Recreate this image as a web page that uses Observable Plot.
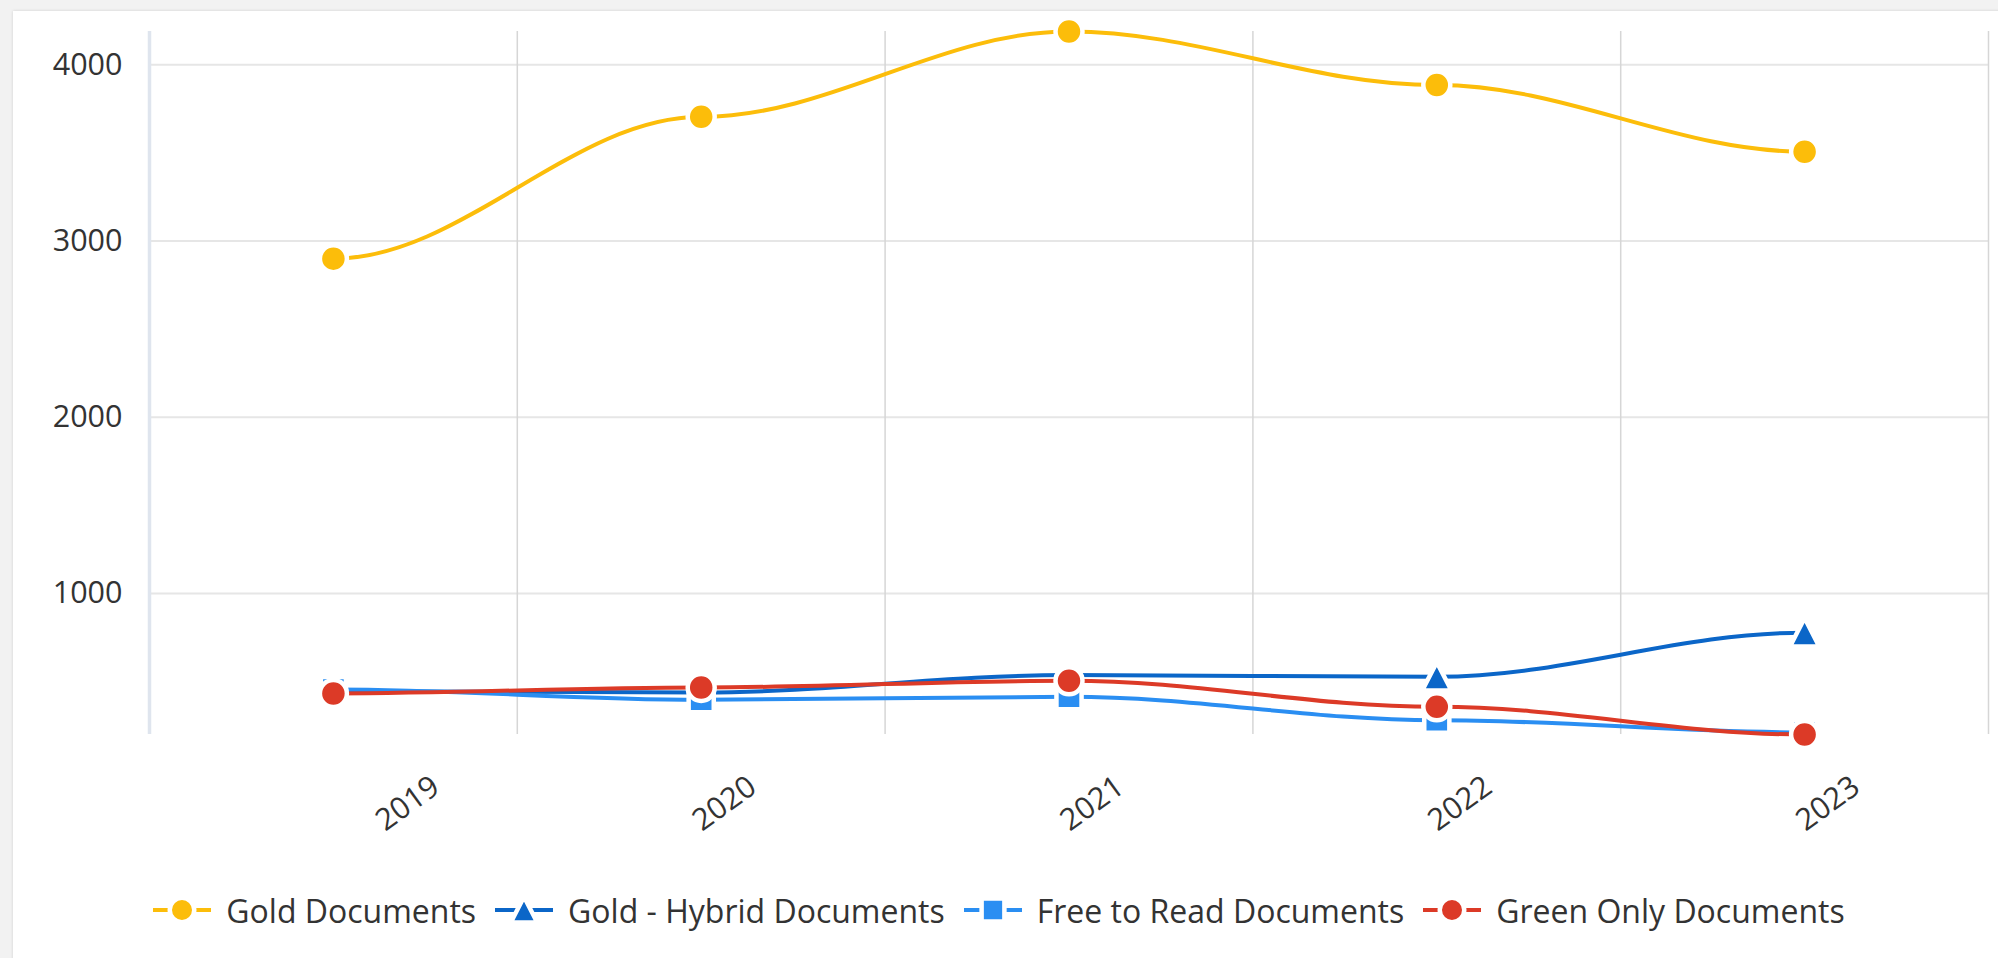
<!DOCTYPE html>
<html>
<head>
<meta charset="utf-8">
<script src="https://cdn.jsdelivr.net/npm/d3@7"></script>
<script src="https://cdn.jsdelivr.net/npm/@observablehq/plot@0.6"></script>
<style>
  html, body { margin: 0; padding: 0; overflow: hidden; }
  body { width: 1998px; height: 958px; background: #f2f2f2; position: relative; font-family: "Open Sans", sans-serif; }
  #card { position: absolute; left: 13px; top: 11px; width: 2100px; height: 1000px; background: #fff; box-shadow: 0 0 3px rgba(0,0,0,0.14); }
  #chart { position: absolute; left: 0; top: 0; }
  #legend { position: absolute; left: 0; top: 888px; width: 1998px; height: 44px; display: flex; justify-content: center; align-items: center; font-size: 32px; color: #333; }
  .item { display: flex; align-items: center; margin: 0 9.5px; white-space: nowrap; }
  .item svg { margin-right: 15px; }
</style>
</head>
<body>
<div id="card"></div>
<div id="chart"></div>
<div id="legend"></div>
<script>
// ---- data ----
const years = [2019, 2020, 2021, 2022, 2023];
const goldDocs = [2900, 3705, 4189, 3885, 3507];
const hybridDocs = [446, 438, 537, 528, 778];
const freeDocs = [455, 397, 414, 281, 212];
const greenDocs = [433, 467, 505, 357, 200];
const seriesNames = ["Gold Documents", "Gold - Hybrid Documents", "Free to Read Documents", "Green Only Documents"];
const seriesColors = ["#fcbd0a", "#0b66c8", "#2a8ef2", "#dc3a27"];
const seriesSymbols = ["circle", "triangle", "square", "circle"];
const yTicks = [1000, 2000, 3000, 4000];

const seriesValues = [goldDocs, hybridDocs, freeDocs, greenDocs];
const rows = seriesNames.map((name, s) => years.map((year, i) => ({series: name, year, value: seriesValues[s][i]})));

// smooth curve with horizontal tangents at each point (control points at 35% of the step)
function smoothCurve(context) {
  return {
    areaStart() {}, areaEnd() {},
    lineStart() { this._p = []; },
    point(x, y) { this._p.push([+x, +y]); },
    lineEnd() {
      const p = this._p, n = p.length;
      if (!n) return;
      context.moveTo(p[0][0], p[0][1]);
      for (let i = 1; i < n; i++) {
        const [x0, y0] = p[i - 1], [x1, y1] = p[i];
        const len = (x1 - x0) * 0.35;
        context.bezierCurveTo(x0 + len, y0, x1 - len, y1, x1, y1);
      }
    }
  };
}

const symbolDefs = {
  circle: {draw(ctx, size) { const r = Math.sqrt(size / Math.PI); ctx.moveTo(r, 0); ctx.arc(0, 0, r, 0, 2 * Math.PI); ctx.closePath(); }},
  square: {draw(ctx, size) { const h = Math.sqrt(size / Math.PI) * 0.93; ctx.rect(-h, -h, 2 * h, 2 * h); }},
  triangle: {draw(ctx, size) { const h = Math.sqrt(size / Math.PI) * 1.08; ctx.moveTo(0, -h); ctx.lineTo(h, h * 0.95); ctx.lineTo(-h, h * 0.95); ctx.closePath(); }}
};

const bounds = years.map(y => y - 0.5).concat([years[years.length - 1] + 0.5]);
const allValues = seriesValues.flat();

const marks = [
  Plot.ruleY(yTicks, {stroke: "#e6e6e6", strokeWidth: 2}),
  Plot.ruleX(bounds.slice(1), {stroke: "#d6d6d6", strokeWidth: 1.5}),
  Plot.ruleX(bounds.slice(0, 1), {stroke: "#dfe5ee", strokeWidth: 3.5}),
];
rows.forEach((data, s) => {
  marks.push(Plot.line(data, {x: "year", y: "value", stroke: seriesColors[s], strokeWidth: 4, curve: smoothCurve}));
  marks.push(Plot.dot(data, {x: "year", y: "value", r: 13.5, symbol: symbolDefs[seriesSymbols[s]], fill: seriesColors[s], stroke: "white", strokeWidth: 4.5, strokeLinejoin: "round"}));
});
marks.push(Plot.text(years.slice(0, 1), {x: d => d, text: d => String(d), frameAnchor: "bottom", dy: 77, dx: 80, rotate: -36, textAnchor: "middle", fill: "#333", fontSize: 30.5}));
marks.push(Plot.text(years.slice(1), {x: d => d, text: d => String(d), frameAnchor: "bottom", dy: 77, dx: 29, rotate: -36, textAnchor: "middle", fill: "#333", fontSize: 30.5}));

const chart = Plot.plot({
  width: 1998,
  height: 870,
  marginLeft: 149,
  marginRight: 10,
  marginTop: 31,
  marginBottom: 136,
  style: {background: "transparent", fontFamily: "Open Sans", fontSize: "30.5px", color: "#333", overflow: "visible"},
  x: {domain: [bounds[0], bounds[bounds.length - 1]], axis: null},
  y: {domain: d3.extent(allValues), ticks: yTicks, tickFormat: "d", tickSize: 0, tickPadding: 27, label: null},
  marks
});
document.getElementById("chart").appendChild(chart);

// legend
const legend = document.getElementById("legend");
seriesNames.forEach((name, s) => {
  const item = document.createElement("div");
  item.className = "item";
  const svg = d3.create("svg").attr("width", 58).attr("height", 30);
  svg.append("line").attr("x1", 0).attr("x2", 58).attr("y1", 15).attr("y2", 15).attr("stroke", seriesColors[s]).attr("stroke-width", 4);
  const ctx = d3.path();
  symbolDefs[seriesSymbols[s]].draw(ctx, Math.PI * 12.25 * 12.25);
  svg.append("path").attr("d", ctx.toString()).attr("transform", "translate(29,15)").attr("fill", seriesColors[s]).attr("stroke", "white").attr("stroke-width", 4.5).attr("stroke-linejoin", "round");
  item.appendChild(svg.node());
  const label = document.createElement("span");
  label.textContent = name;
  item.appendChild(label);
  legend.appendChild(item);
});
</script>
</body>
</html>
